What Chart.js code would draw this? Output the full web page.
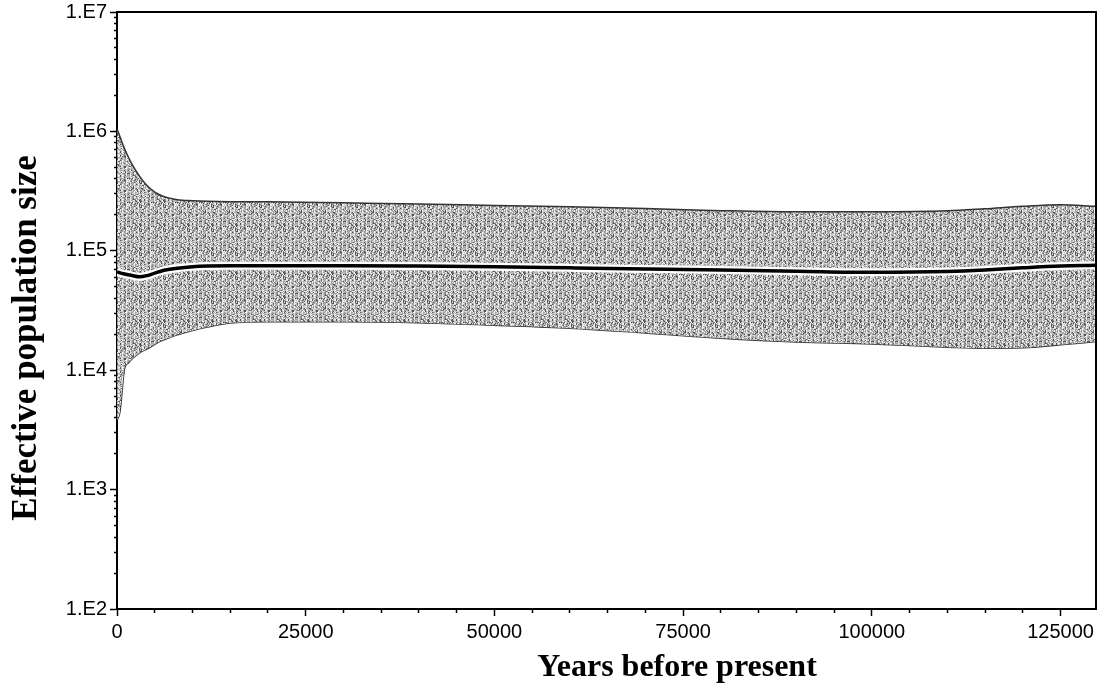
<!DOCTYPE html>
<html>
<head>
<meta charset="utf-8">
<script src="https://cdn.jsdelivr.net/npm/chart.js@4"></script>
<style>
html, body { margin: 0; padding: 0; background: #fff; }
</style>
</head>
<body>
<canvas id="grafico" width="1099" height="691"></canvas>
<script>
// Dados (anos antes do presente)
const anos = [0, 400, 1000, 1500, 2000, 3000, 4000, 5000, 6000, 7000, 8000, 10000, 12000, 15000, 20000, 30000, 40000, 50000, 60000, 70000, 80000, 90000, 100000, 110000, 115000, 120000, 125000, 129700];
const mediana = [66700, 65400, 64000, 63000, 62000, 60500, 62000, 65000, 68000, 70000, 71500, 73500, 74500, 75000, 75000, 75000, 74500, 73500, 72000, 70500, 69000, 67500, 66000, 67000, 69000, 72000, 74500, 75500];
const limiteSuperior = [1050000, 900000, 714000, 610000, 530000, 420000, 350000, 310000, 288000, 275000, 268000, 263000, 260000, 258000, 257000, 252000, 247000, 240000, 234000, 226000, 217000, 212000, 212000, 216000, 225000, 236000, 243000, 236000];
const limiteInferior = [3800, 4500, 10300, 11500, 12500, 14000, 15100, 16500, 17800, 18800, 19800, 21500, 23000, 24800, 25500, 25500, 25000, 23800, 22500, 20500, 18500, 17200, 16600, 15600, 15300, 15400, 16300, 17400];

// Marcas dos eixos
const marcasX = [0, 5000, 10000, 15000, 20000, 25000, 30000, 35000, 40000, 45000, 50000, 55000, 60000, 65000, 70000, 75000, 80000, 85000, 90000, 95000, 100000, 105000, 110000, 115000, 120000, 125000];
const rotulosX = [0, 25000, 50000, 75000, 100000, 125000];
const expoentes = [2, 3, 4, 5, 6, 7];
const rotuloX = 'Years before present';
const rotuloY = 'Effective population size';

// Textura pontilhada da faixa (padrão fixo, só visual)
function criarTextura() {
    const n = 24;
    const c = document.createElement('canvas');
    c.width = n; c.height = n;
    const g = c.getContext('2d');
    for (let y = 0; y < n; y++) {
        for (let x = 0; x < n; x++) {
            let h = Math.imul(x, 374761393) + Math.imul(y, 668265263);
            h = Math.imul(h ^ (h >>> 13), 1274126177);
            h = ((h ^ (h >>> 16)) >>> 0) % 100;
            let cor;
            if (x % 4 === 2) {
                cor = h < 10 ? '#666' : h < 35 ? '#aaaaaa' : '#ebebeb';
            } else {
                cor = h < 18 ? '#555555' : h < 60 ? '#a2a2a2' : h < 86 ? '#c8c8c8' : '#f4f4f4';
            }
            g.fillStyle = cor;
            g.fillRect(x, y, 1, 1);
        }
    }
    return document.getElementById('grafico').getContext('2d').createPattern(c, 'repeat');
}

const pontos = arr => anos.map((a, i) => ({ x: a, y: arr[i] }));
const ehPotencia = v => {
    const e = Math.log10(v);
    return Math.abs(e - Math.round(e)) < 1e-9;
};

const moldura = {
    id: 'moldura',
    afterDraw(chart) {
        const { ctx, chartArea } = chart;
        ctx.save();
        ctx.strokeStyle = '#000';
        ctx.lineWidth = 2;
        ctx.beginPath();
        ctx.moveTo(chartArea.left, chartArea.top);
        ctx.lineTo(chartArea.right, chartArea.top);
        ctx.lineTo(chartArea.right, chartArea.bottom);
        ctx.stroke();

        // títulos dos eixos
        ctx.fillStyle = '#000';
        ctx.textAlign = 'center';
        ctx.textBaseline = 'middle';
        ctx.font = 'bold 32px "Liberation Serif", "Times New Roman", serif';
        ctx.fillText(rotuloX, 677, 668);
        ctx.font = 'bold 35px "Liberation Serif", "Times New Roman", serif';
        ctx.translate(27, 338);
        ctx.rotate(-Math.PI / 2);
        ctx.fillText(rotuloY, 0, 0);
        ctx.restore();
    }
};

const textura = criarTextura();
const fonteTicks = { family: '"Liberation Sans", Arial, sans-serif', size: 20 };

new Chart(document.getElementById('grafico'), {
    type: 'line',
    data: {
        datasets: [
            {
                data: pontos(mediana),
                borderColor: '#000',
                borderWidth: 3.5,
                pointRadius: 0,
                cubicInterpolationMode: 'monotone',
                fill: false
            },
            {
                data: pontos(mediana),
                borderColor: '#fff',
                borderWidth: 8,
                pointRadius: 0,
                cubicInterpolationMode: 'monotone',
                fill: false
            },
            {
                data: pontos(limiteSuperior),
                borderColor: '#333',
                borderWidth: 1.5,
                pointRadius: 0,
                cubicInterpolationMode: 'monotone',
                backgroundColor: textura,
                fill: 3
            },
            {
                data: pontos(limiteInferior),
                borderColor: '#333',
                borderWidth: 1.5,
                pointRadius: 0,
                cubicInterpolationMode: 'monotone',
                fill: false
            }
        ]
    },
    options: {
        responsive: false,
        animation: false,
        layout: { padding: { top: 12, right: 3 } },
        plugins: {
            legend: { display: false },
            tooltip: { enabled: false }
        },
        scales: {
            x: {
                type: 'linear',
                min: 0,
                max: 129700,
                border: { color: '#000', width: 2 },
                grid: {
                    drawOnChartArea: false,
                    color: '#000',
                    tickLength: 7,
                    tickWidth: 1.5,
                    tickBorderDash: c => (rotulosX.includes(c.tick && c.tick.value) ? [] : [3, 20])
                },
                afterBuildTicks: s => { s.ticks = marcasX.map(v => ({ value: v })); },
                ticks: {
                    autoSkip: false,
                    maxRotation: 0,
                    color: '#000',
                    padding: 4,
                    font: fonteTicks,
                    callback: v => (rotulosX.includes(v) ? String(v) : '')
                },
                afterFit: s => { s.height = 82; s.paddingLeft = 0; s.paddingRight = 0; }
            },
            y: {
                type: 'logarithmic',
                min: 100,
                max: 1e7,
                border: { color: '#000', width: 2 },
                grid: {
                    drawOnChartArea: false,
                    color: '#000',
                    tickLength: 7,
                    tickWidth: 1.5,
                    tickBorderDash: c => (c.tick && ehPotencia(c.tick.value) ? [] : [3, 20]),
                    tickBorderDashOffset: 19
                },
                afterBuildTicks: s => {
                    const lista = [];
                    expoentes.forEach(e => {
                        const n = e === 7 ? 1 : 9;
                        for (let m = 1; m <= n; m++) lista.push({ value: m * Math.pow(10, e) });
                    });
                    s.ticks = lista;
                },
                ticks: {
                    autoSkip: false,
                    color: '#000',
                    padding: 3,
                    font: fonteTicks,
                    callback: v => (ehPotencia(v) ? '1.E' + Math.round(Math.log10(v)) : '')
                },
                afterFit: s => { s.width = 117; s.paddingTop = 0; s.paddingBottom = 0; }
            }
        }
    },
    plugins: [moldura]
});
</script>
</body>
</html>
